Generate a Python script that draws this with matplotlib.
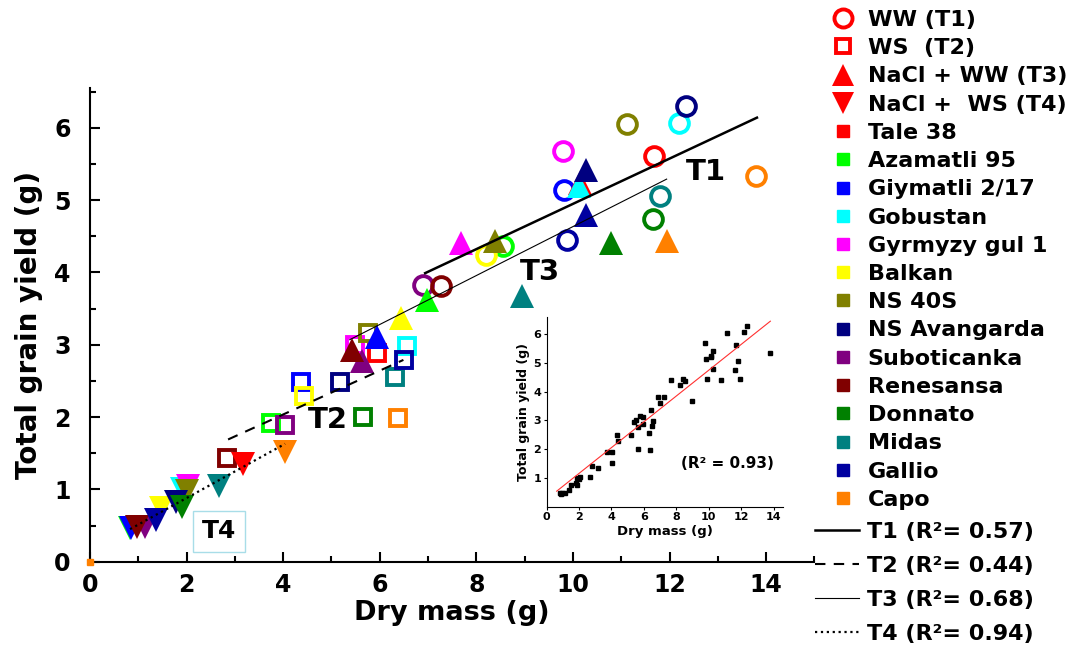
import matplotlib
matplotlib.use("Agg")
import matplotlib.pyplot as plt
from matplotlib.lines import Line2D
from matplotlib.ticker import MultipleLocator

plt.rcParams["font.family"] = ["DejaVu Sans"]
plt.rcParams["font.weight"] = "bold"
plt.rcParams["axes.labelweight"] = "bold"

varieties = ["Tale 38", "Azamatli 95", "Giymatli 2/17", "Gobustan", "Gyrmyzy gul 1",
             "Balkan", "NS 40S", "NS Avangarda", "Suboticanka", "Renesansa",
             "Donnato", "Midas", "Gallio", "Capo"]
variety_colors = ["#ff0000", "#00ff00", "#0000ff", "#00ffff", "#ff00ff",
                  "#ffff00", "#808000", "#000080", "#800080", "#800000",
                  "#008000", "#008080", "#0000a0", "#ff8000"]

# dry mass (g) and total grain yield (g), in variety order, per treatment
ww_dry = [11.68, 8.56, 9.81, 12.2, 9.79, 8.2, 11.11, 12.35, 6.9, 7.27, 11.65, 11.81, 9.88, 13.78]
ww_yield = [5.61, 4.36, 5.14, 6.07, 5.68, 4.24, 6.05, 6.30, 3.83, 3.81, 4.74, 5.06, 4.45, 5.34]

ws_dry = [5.95, 3.74, 4.36, 6.56, 5.49, 4.43, 5.76, 5.18, 4.04, 2.83, 5.66, 6.31, 6.5, 6.38]
ws_yield = [2.88, 1.92, 2.48, 2.98, 3.0, 2.29, 3.16, 2.49, 1.89, 1.43, 2.0, 2.56, 2.79, 1.98]

nacl_ww_dry = [10.15, 6.97, 5.95, 10.13, 7.69, 6.45, 8.39, 10.27, 5.63, 5.42, 10.78, 8.94, 10.27, 11.94]
nacl_ww_yield = [5.24, 3.62, 3.11, 5.2, 4.40, 3.37, 4.43, 5.42, 2.77, 2.93, 4.41, 3.67, 4.79, 4.44]

nacl_ws_dry = [3.17, 0.82, 0.86, 1.9, 2.03, 1.48, 2.01, 1.79, 1.14, 0.98, 1.9, 2.68, 1.37, 4.04]
nacl_ws_yield = [1.35, 0.47, 0.46, 1.0, 1.04, 0.74, 0.98, 0.82, 0.48, 0.48, 0.76, 1.04, 0.57, 1.52]

# regression line end points per treatment
fit_t1_x, fit_t1_y = [6.94, 13.81], [3.99, 6.14]
fit_t2_x, fit_t2_y = [2.86, 6.49], [1.69, 2.79]
fit_t3_x, fit_t3_y = [5.38, 11.94], [3.07, 5.29]
fit_t4_x, fit_t4_y = [0.83, 4.04], [0.45, 1.63]
r2_values = [0.57, 0.44, 0.68, 0.94]

# pooled regression (inset)
fit_all_x, fit_all_y = [0.62, 13.8], [0.54, 6.45]
r2_all = 0.93

fig = plt.figure(figsize=(10.76, 6.48), dpi=100)
ax = fig.add_axes([0.0836, 0.1332, 0.6733, 0.731])

treatments = [
    (ww_dry, ww_yield, dict(marker="o", ms=13.5, mfc="none", mew=2.8)),
    (ws_dry, ws_yield, dict(marker="s", ms=11, mfc="none", mew=2.8)),
    (nacl_ww_dry, nacl_ww_yield, dict(marker="^", ms=17, mew=0)),
    (nacl_ws_dry, nacl_ws_yield, dict(marker="v", ms=17, mew=0)),
]
for dry, yld, style in treatments:
    for i, c in enumerate(variety_colors):
        kw = dict(style)
        kw["mec"] = c
        if kw.get("mfc") != "none":
            kw["mfc"] = c
        ax.plot(dry[i], yld[i], ls="none", zorder=3, **kw)

ax.plot(0, 0, "s", color="#ff8000", ms=4, clip_on=False, zorder=4)

ax.plot(fit_t1_x, fit_t1_y, color="black", lw=1.8, zorder=5)
ax.plot(fit_t2_x, fit_t2_y, color="black", lw=1.5, dashes=(5, 4), zorder=5)
ax.plot(fit_t3_x, fit_t3_y, color="black", lw=0.8, zorder=5)
ax.plot(fit_t4_x, fit_t4_y, color="black", lw=1.6, ls=":", zorder=5)

ax.text(12.75, 5.39, "T1", fontsize=21, ha="center", va="center", zorder=6)
ax.text(4.93, 1.96, "T2", fontsize=21, ha="center", va="center", zorder=6)
ax.text(9.32, 4.01, "T3", fontsize=21, ha="center", va="center", zorder=6)
ax.text(2.68, 0.42, "T4", fontsize=18, ha="center", va="center", zorder=6,
        bbox=dict(boxstyle="square,pad=0.35", fc="white", ec="#a8dde8", lw=1))

ax.set_xlim(0, 15)
ax.set_ylim(0, 6.55)
ax.xaxis.set_major_locator(MultipleLocator(2))
ax.xaxis.set_minor_locator(MultipleLocator(1))
ax.yaxis.set_major_locator(MultipleLocator(1))
ax.yaxis.set_minor_locator(MultipleLocator(0.5))
ax.spines[["top", "right"]].set_visible(False)
for s in ("left", "bottom"):
    ax.spines[s].set_linewidth(1.5)
ax.tick_params(which="major", direction="in", length=7, width=1.5, labelsize=17)
ax.tick_params(which="minor", direction="in", length=4, width=1.5)
ax.tick_params(axis="x", pad=8)
ax.tick_params(axis="y", pad=14)
ax.set_xlabel("Dry mass (g)", fontsize=19.5, labelpad=2)
ax.set_ylabel("Total grain yield (g)", fontsize=20, labelpad=8)

# inset: all treatments pooled
ins = fig.add_axes([0.508, 0.218, 0.22, 0.293])
all_dry = ww_dry + ws_dry + nacl_ww_dry + nacl_ws_dry
all_yield = ww_yield + ws_yield + nacl_ww_yield + nacl_ws_yield
ins.plot(all_dry, all_yield, "s", color="black", ms=3.5, ls="none")
ins.plot(fit_all_x, fit_all_y, color="#ff3030", lw=0.8)
ins.text(11.15, 1.52, f"(R² = {r2_all:.2f})", fontsize=11, ha="center", va="center")
ins.set_xlim(0, 14.6)
ins.set_ylim(0, 6.6)
ins.xaxis.set_major_locator(MultipleLocator(2))
ins.set_yticks([1, 2, 3, 4, 5, 6])
ins.spines[["top", "right"]].set_visible(False)
ins.tick_params(direction="out", length=2, labelsize=8, pad=2)
ins.set_xlabel("Dry mass (g)", fontsize=9.5, labelpad=2)
ins.set_ylabel("Total grain yield (g)", fontsize=9, labelpad=2)

# legend: treatments and varieties
marker_handles = [
    Line2D([], [], ls="none", marker="o", ms=13, mfc="none", mec="red", mew=2.8),
    Line2D([], [], ls="none", marker="s", ms=10, mfc="none", mec="red", mew=2.8),
    Line2D([], [], ls="none", marker="^", ms=16, color="red", mew=0),
    Line2D([], [], ls="none", marker="v", ms=16, color="red", mew=0),
]
marker_labels = ["WW (T1)", "WS  (T2)", "NaCl + WW (T3)", "NaCl +  WS (T4)"]
for name, c in zip(varieties, variety_colors):
    marker_handles.append(Line2D([], [], ls="none", marker="s", ms=8.5, color=c))
    marker_labels.append(name)

fig.legend(marker_handles, marker_labels, loc="upper left",
           bbox_to_anchor=(825.5 / 1076, 1 - 10 / 648), frameon=False, fontsize=16,
           labelspacing=0.37, handlelength=1.6, handletextpad=0.3,
           borderaxespad=0, borderpad=0)

line_handles = [
    Line2D([], [], color="black", lw=1.8),
    Line2D([], [], color="black", lw=1.5, dashes=(5, 4)),
    Line2D([], [], color="black", lw=0.8),
    Line2D([], [], color="black", lw=1.6, ls=":"),
]
line_labels = [f"T{i + 1} (R²= {r:.2f})" for i, r in enumerate(r2_values)]
fig.legend(line_handles, line_labels, loc="upper left",
           bbox_to_anchor=(815 / 1076, 1 - 522 / 648), frameon=False, fontsize=16,
           labelspacing=0.63, handlelength=2.0, handletextpad=0.36,
           borderaxespad=0, borderpad=0)

fig.savefig("out.png", dpi=100)
